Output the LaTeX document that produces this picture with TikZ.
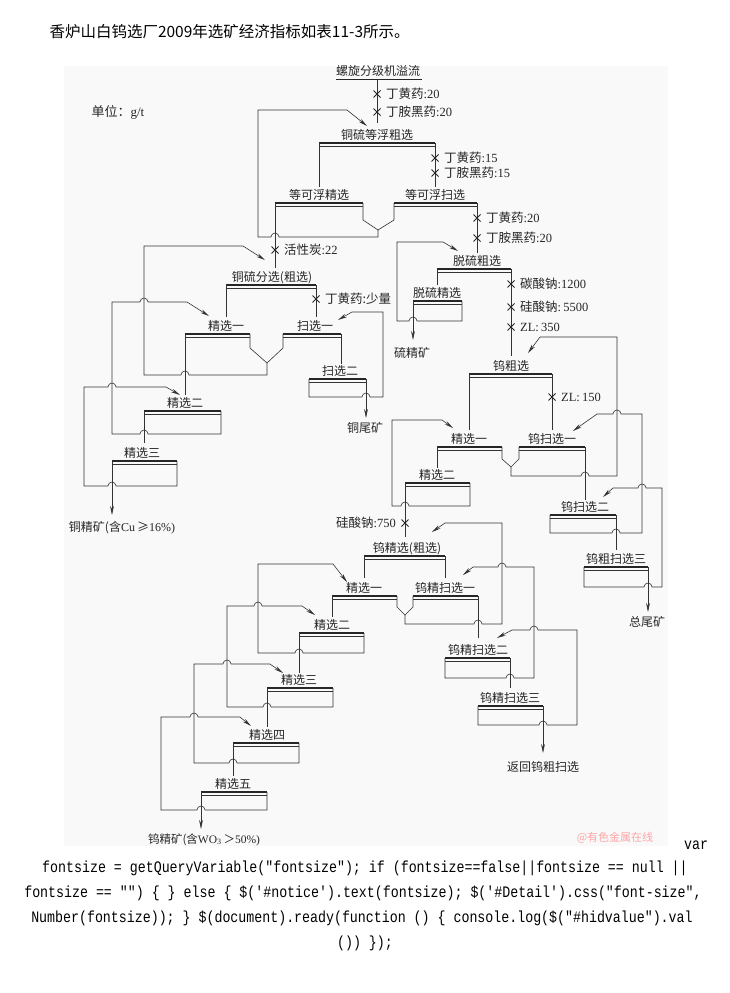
\documentclass[tikz,border=0pt]{standalone}
\usepackage{fontspec}
\setmainfont{Liberation Serif}
\newfontfamily\zhfont{Noto Sans CJK SC}
\newfontfamily\codefont{Liberation Mono}[FakeStretch=0.83]
\usetikzlibrary{arrows.meta}

\newcommand\zh[1]{{\zhfont #1}}
% hop over a vertical pipe, going right / going left
\newcommand\hopR[2]{-- (#1-4,#2) arc[start angle=180,end angle=0,radius=4pt]}
\newcommand\hopL[2]{-- (#1+4,#2) arc[start angle=0,end angle=180,radius=4pt]}
% reagent dosing point: name, x, y, text
\newcommand\reag[4]{\draw[line width=0.8pt,black!85] (#2-3.5,#3-3.5) -- (#2+3.5,#3+3.5) (#2-3.5,#3+3.5) -- (#2+3.5,#3-3.5);
  \node[dose] (#1) at (#2+9,#3) {#4};}
% flotation cell: name, label, left, right, y, label x
\newcommand\cell[6]{\draw[line width=1.2pt,black!85] (#3,#5) -- (#4,#5);
  \draw[line width=0.6pt,black!80] (#3,#5+2.8) -- (#4,#5+2.8);
  \node[tag] (#1) at (#6,#5-4) {#2};}

\begin{document}
\begin{tikzpicture}[x=1pt,y=-1pt,
    pipe/.style={line width=0.6pt,black!80},
    flow/.style={pipe,-{Stealth[length=9pt,width=3.8pt]}},
    tag/.style={font=\zhfont\fontsize{12}{14}\selectfont,inner sep=0pt,anchor=base,black!85},
    dose/.style={font=\fontsize{12.5}{14}\selectfont,inner sep=0pt,anchor=west,black!85},
    code/.style={font=\codefont\fontsize{16}{18}\selectfont,inner sep=0pt}]
\useasboundingbox (0,0) rectangle (730,993);
\fill[black!2.5] (64,66) rectangle (668,846);

% Header
\node[anchor=west,font=\zhfont\fontsize{15.5}{18}\selectfont] (title) at (46,32) {香炉山白钨选厂2009年选矿经济指标如表11-3所示。};
\node[anchor=west,font=\fontsize{13}{15}\selectfont,black!85] (unit) at (88,112) {\zh{单位：}g/t};

% Feed
\node[tag] (feed) at (378,75) {螺旋分级机溢流};
\draw[line width=1pt,black!85] (336,79) -- (422,79);
\draw[pipe] (377,79) -- (377,123);
\reag{r1}{377}{94}{\zh{丁黄药}:20}
\reag{r2}{377}{112}{\zh{丁胺黑药}:20}

% Cu-S bulk flotation
\cell{csr}{铜硫等浮粗选}{319}{435}{143}{377}
\draw[pipe] (319,143) -- (319,187);
\draw[pipe] (435,143) -- (435,187);
\reag{r3}{435}{158}{\zh{丁黄药}:15}
\reag{r4}{435}{173}{\zh{丁胺黑药}:15}
\cell{dkj}{等可浮精选}{275}{363}{203}{319}
\cell{dks}{等可浮扫选}{394}{477}{203}{435}
\draw[pipe] (363,203) -- (363,220) -- (378,230) -- (394,220) -- (394,203);
\draw[flow] (378,230) -- (378,237) \hopL{275}{237} -- (258,237) -- (258,110) -- (347,110) -- (367,126);

% Cu-S separation
\draw[pipe] (275,203) -- (275,268);
\reag{r5}{275}{250}{\zh{活性炭}:22}
\cell{cfr}{铜硫分选(粗选)}{226}{316}{285}{272}
\draw[pipe] (226,285) -- (226,317);
\draw[pipe] (316,285) -- (316,317);
\reag{r6}{316}{299}{\zh{丁黄药:少量}}
\cell{cj1}{精选一}{185}{250}{334}{226}
\cell{cs1}{扫选一}{283}{341}{334}{315}
\draw[pipe] (250,334) -- (250,348) -- (267,363) -- (283,348) -- (283,334);
\draw[flow] (267,363) -- (267,375) \hopL{185}{375} -- (144,375) -- (144,246) -- (243,246) -- (265,260);
\draw[pipe] (341,334) -- (341,364);
\cell{cs2}{扫选二}{309}{366}{379}{340}
\draw[flow] (309,379) -- (309,397) \hopR{366}{397} -- (383,397) -- (383,312) -- (352,312) -- (338,320);
\draw[flow] (366,379) -- (366,418);
\node[tag] (cutail) at (365,432) {铜尾矿};

% Cu cleaning
\draw[pipe] (185,334) -- (185,395);
\cell{cj2}{精选二}{144}{221}{411}{185}
\draw[flow] (221,411) -- (221,434) \hopL{144}{434} -- (112,434) -- (112,302) \hopR{144}{302} -- (187,302) -- (209,316);
\draw[pipe] (144,411) -- (144,443);
\cell{cj3}{精选三}{112}{177}{461}{142}
\draw[flow] (177,461) -- (177,486) \hopL{112}{486} -- (84,486) -- (84,387) \hopR{112}{387} -- (166,387) -- (180,395);
\draw[flow] (112,461) -- (112,515);
\node[dose,anchor=base,font=\fontsize{12}{14}\selectfont] (cucon) at (122,531) {\zh{铜精矿(含}Cu\,\zh{≥}16\%)};

% Desulphurization
\draw[pipe] (477,203) -- (477,253);
\reag{r7}{477}{218}{\zh{丁黄药}:20}
\reag{r8}{477}{238}{\zh{丁胺黑药}:20}
\cell{ssr}{脱硫粗选}{437}{511}{269}{477}
\draw[pipe] (437,269) -- (437,285);
\cell{ssj}{脱硫精选}{413}{462}{301}{437}
\draw[flow] (462,301) -- (462,321) \hopL{413}{321} -- (397,321) -- (397,242) -- (443,242) -- (458,251);
\draw[flow] (413,301) -- (413,340);
\node[tag] (scon) at (412,357) {硫精矿};

% W roughing
\draw[pipe] (511,269) -- (511,356);
\reag{r9}{511}{284}{\zh{碳酸钠}:1200}
\reag{r10}{511}{307}{\zh{硅酸钠}:\,5500}
\reag{r11}{511}{327}{ZL:\,350}
\cell{wr}{钨粗选}{469}{552}{374}{511}
\draw[pipe] (469,374) -- (469,430);
\draw[pipe] (552,374) -- (552,430);
\reag{r12}{552}{397}{ZL:\,150}
\cell{wj1}{精选一}{437}{502}{447}{469}
\cell{ws1}{钨扫选一}{519}{585}{447}{552}
\draw[pipe] (502,447) -- (502,459) -- (511,467) -- (519,459) -- (519,447);
\draw[flow] (511,467) -- (511,476) \hopR{585}{476} -- (617,476) -- (617,337) -- (540,337) -- (528,353);
\draw[pipe] (437,447) -- (437,468);
\cell{wj2}{精选二}{405}{470}{483}{437}
\draw[flow] (470,483) -- (470,506) \hopL{405}{506} -- (392,506) -- (392,420) -- (442,420) -- (453,428);

% W scavenging
\draw[pipe] (585,447) -- (585,500);
\cell{ws2}{钨扫选二}{550}{616}{515}{585}
\draw[flow] (550,515) -- (550,533) \hopR{616}{533} -- (642,533) -- (642,414) \hopL{617}{414} -- (597,414) -- (573,431);
\draw[pipe] (616,515) -- (616,550);
\cell{ws3}{钨粗扫选三}{584}{648}{567}{616}
\draw[flow] (584,567) -- (584,587) \hopR{648}{587} -- (662,587) -- (662,488) \hopL{642}{488} -- (613,488) -- (603,497);
\draw[flow] (648,567) -- (648,612);
\node[tag] (tail) at (647,626) {总尾矿};

% W cleaning
\draw[pipe] (405,483) -- (405,537);
\draw[line width=0.8pt,black!85] (401.5,519.5) -- (408.5,526.5) (401.5,526.5) -- (408.5,519.5);
\node[dose,anchor=east] (r13) at (396,523) {\zh{硅酸钠}:750};
\cell{wc}{钨精选(粗选)}{364}{445}{556}{407}
\draw[pipe] (364,556) -- (364,578);
\draw[pipe] (445,556) -- (445,578);
\cell{wcj1}{精选一}{332}{397}{596}{364}
\cell{wcs1}{钨精扫选一}{413}{478}{596}{445}
\draw[pipe] (397,596) -- (397,607) -- (405,615) -- (413,607) -- (413,596);
\draw[flow] (405,615) -- (405,624) \hopR{478}{624} -- (502,624) -- (502,523) -- (445,523) -- (432,532);
\draw[pipe] (332,596) -- (332,617);
\cell{wcj2}{精选二}{299}{364}{633}{332}
\draw[flow] (364,633) -- (364,653) \hopL{299}{653} -- (258,653) -- (258,564) -- (333,564) -- (347,582);
\draw[pipe] (478,596) -- (478,638);
\cell{wcs2}{钨精扫选二}{445}{510}{658}{478}
\draw[flow] (445,658) -- (445,678) \hopR{510}{678} -- (534,678) -- (534,567) \hopL{502}{567} -- (473,567) -- (463,575);
\draw[pipe] (510,658) -- (510,688);
\cell{wcs3}{钨精扫选三}{478}{543}{706}{510}
\draw[flow] (478,706) -- (478,725) \hopR{543}{725} -- (577,725) -- (577,630) \hopL{534}{630} -- (512,630) -- (497,638);
\draw[flow] (543,706) -- (543,753);
\node[tag] (back) at (543,771) {返回钨粗扫选};
\draw[pipe] (299,633) -- (299,673);
\cell{wcj3}{精选三}{267}{333}{688}{299}
\draw[flow] (333,688) -- (333,707) \hopL{267}{707} -- (227,707) -- (227,606) \hopR{258}{606} -- (302,606) -- (315,615);
\draw[pipe] (267,688) -- (267,727);
\cell{wcj4}{精选四}{233}{299}{743}{267}
\draw[flow] (299,743) -- (299,763) \hopL{233}{763} -- (194,763) -- (194,664) \hopR{227}{664} -- (270,664) -- (283,673);
\draw[pipe] (233,743) -- (233,776);
\cell{wcj5}{精选五}{201}{267}{792}{233}
\draw[flow] (267,792) -- (267,810) \hopL{201}{810} -- (161,810) -- (161,717) \hopR{194}{717} -- (240,717) -- (251,726);
\draw[flow] (201,792) -- (201,829);
\node[dose,anchor=base,font=\fontsize{11.5}{13}\selectfont] (wcon) at (204,843) {\zh{钨精矿(含}WO\textsubscript{3}\,\zh{＞}50\%)};

% Watermark and page text
\node[font=\zhfont\fontsize{11}{13}\selectfont,red!35] (mark) at (615,838) {@有色金属在线};
\node[code,anchor=west] (c0) at (684,845) {var};
\node[code] (c1) at (365,868) {fontsize = getQueryVariable("fontsize"); if (fontsize==false||fontsize == null ||};
\node[code] (c2) at (363,893) {fontsize == "") \{ \} else \{ \$('\#notice').text(fontsize); \$('\#Detail').css("font-size",};
\node[code] (c3) at (362,918) {Number(fontsize)); \} \$(document).ready(function () \{ console.log(\$("\#hidvalue").val};
\node[code] (c4) at (365,943) {()) \});};
\end{tikzpicture}
\end{document}
